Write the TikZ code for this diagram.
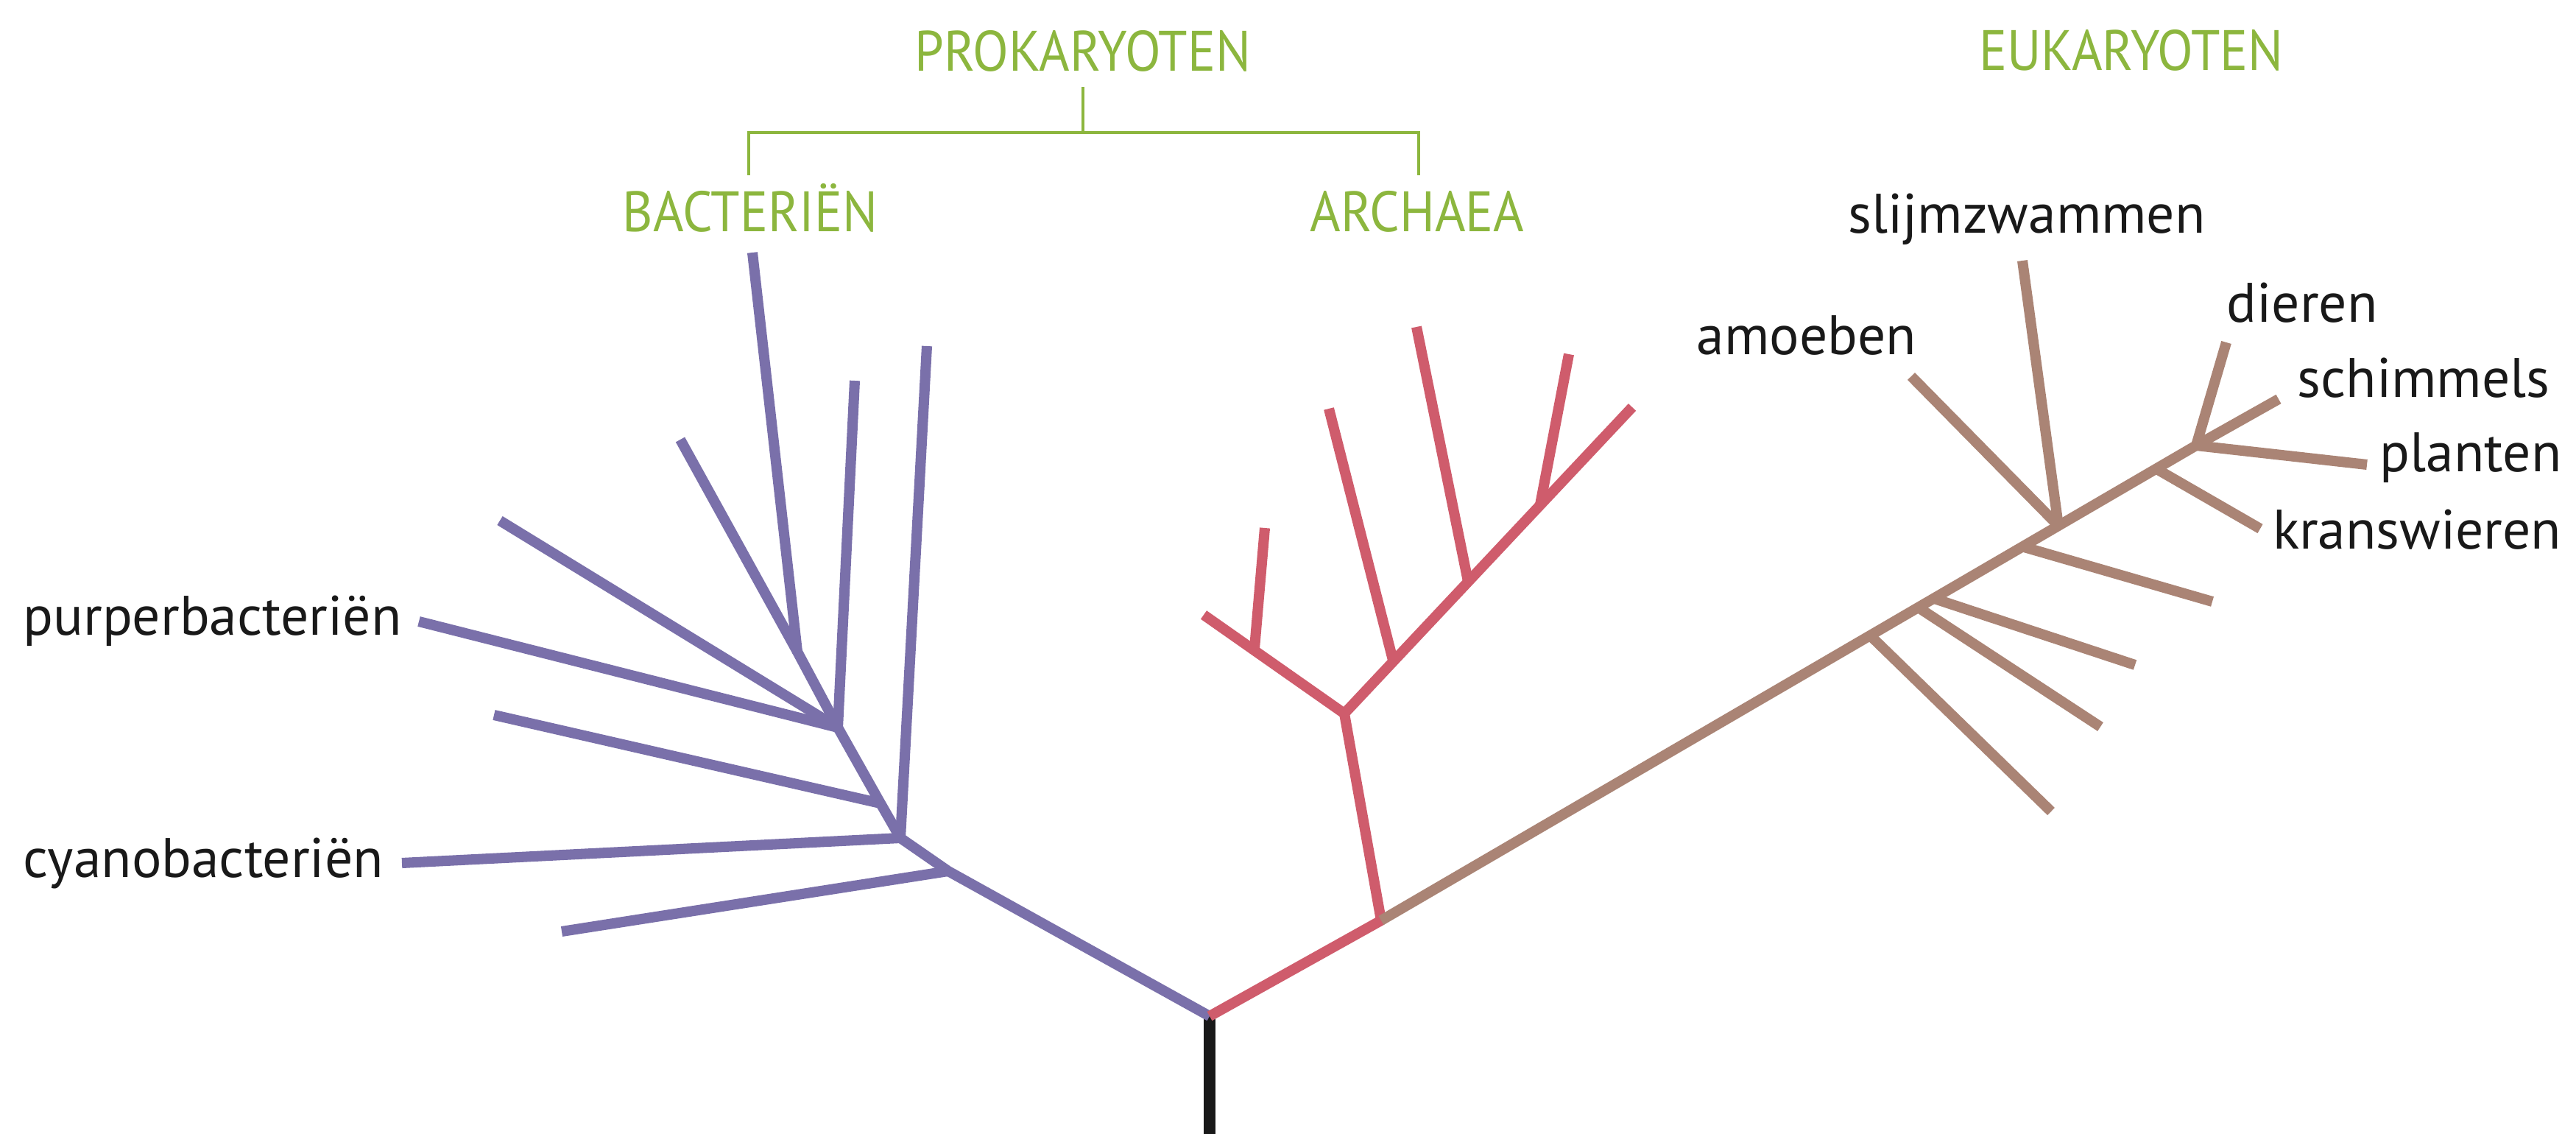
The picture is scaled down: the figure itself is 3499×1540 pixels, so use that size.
\documentclass[tikz,border=0pt]{standalone}
\usepackage{fontspec}
\setmainfont{PT Sans}
\newfontfamily\groupfont{PT Sans}[FakeStretch=0.92]
\usetikzlibrary{calc}
\definecolor{bactcol}{RGB}{122,112,170}
\definecolor{archcol}{RGB}{207,92,108}
\definecolor{eukcol}{RGB}{170,132,117}
\definecolor{groupgreen}{RGB}{140,182,62}
\begin{document}
\begin{tikzpicture}[x=0.01cm, y=-0.01cm,
    branch/.style={line width=4pt, line join=round},
    bact/.style={branch, draw=bactcol},
    arch/.style={branch, draw=archcol},
    euk/.style={branch, draw=eukcol},
    taxon/.style={inner sep=0pt, text=black!90, font=\fontsize{21.5}{25}\selectfont},
    group/.style={inner sep=0pt, text=groupgreen, font=\groupfont\fontsize{22}{26}\selectfont},
    bracket/.style={draw=groupgreen, line width=0.9pt}]
\useasboundingbox (0,0) rectangle (3499,1540);

% labels
\node[group, anchor=base] (prok) at (1471,97) {PROKARYOTEN};
\node[group, anchor=base] (bacteria) at (1019,315) {BACTERIËN};
\node[group, anchor=base] (archaea) at (1925,315) {ARCHAEA};
\node[group, anchor=base] (euka) at (2895,96) {EUKARYOTEN};
\node[taxon, anchor=base west] (purper) at (31,863) {purperbacteriën};
\node[taxon, anchor=base west] (cyano) at (31,1191) {cyanobacteriën};
\node[taxon, anchor=base] (slijm) at (2753,317) {slijmzwammen};
\node[taxon, anchor=base west] (amoeb) at (2304,482) {amoeben};
\node[taxon, anchor=base west] (dier) at (3024,438) {dieren};
\node[taxon, anchor=base west] (schim) at (3120,540) {schimmels};
\node[taxon, anchor=base east] (plant) at (3480,641) {planten};
\node[taxon, anchor=base east] (krans) at (3480,746) {kranswieren};

% bracket prokaryoten
\coordinate (brTop) at (1471,118);
\coordinate (brMid) at (1471,180);
\coordinate (brL) at (1017,238);
\coordinate (brR) at (1927,238);
\draw[bracket] (brTop) -- (brMid);
\draw[bracket] (brL) |- (brMid) -| (brR);

% root
\coordinate (rootBot) at (1643,1540);
\coordinate (root) at (1643,1380);
\draw[line width=4.4pt, black!90] (rootBot) -- (root);

% bacterien
\coordinate (b5) at (1288,1183);
\coordinate (b4) at (1223,1138);
\coordinate (b3) at (1196,1091);
\coordinate (b2) at (1138,988);
\coordinate (b1) at (1083,885);
\coordinate (bTop) at (1022,343);
\coordinate (bB) at (924,597);
\coordinate (bC) at (679,707);
\coordinate (bPurper) at (569,844);
\coordinate (bD) at (1161,517);
\coordinate (bE) at (671,971);
\coordinate (bF) at (1259,470);
\coordinate (bCyano) at (546,1172);
\coordinate (bG) at (763,1265);
\draw[bact] (root) -- (b5) -- (b4) -- (b3) -- (b2) -- (b1) -- (bTop);
\draw[bact] (bB) -- (b1);
\draw[bact] (bC) -- (b2);
\draw[bact] (bPurper) -- (b2);
\draw[bact] (bD) -- (b2);
\draw[bact] (bE) -- (b3);
\draw[bact] (bF) -- (b4);
\draw[bact] (bCyano) -- (b4);
\draw[bact] (bG) -- (b5);

% archaea
\coordinate (a0) at (1876,1250);
\coordinate (a1) at (1826,969);
\coordinate (aLeft) at (1635,835);
\coordinate (aRight) at (2217,553);
\coordinate (aL1) at ($(a1)!0.64!(aLeft)$);
\coordinate (aR1) at ($(a1)!0.17!(aRight)$);
\coordinate (aR2) at ($(a1)!0.43!(aRight)$);
\coordinate (aR3) at ($(a1)!0.68!(aRight)$);
\draw[arch] (root) -- (a0) -- (a1) -- (aRight);
\draw[arch] (a1) -- (aLeft);
\draw[arch] (aL1) -- (1718,717);
\draw[arch] (aR1) -- (1805,555);
\draw[arch] (aR2) -- (1924,444);
\draw[arch] (aR3) -- (2131,481);

% eukaryoten
\coordinate (eTop) at (2983,605);
\coordinate (e1) at ($(a0)!0.600!(eTop)$);
\coordinate (e2) at ($(a0)!0.659!(eTop)$);
\coordinate (e3) at ($(a0)!0.678!(eTop)$);
\coordinate (e4) at ($(a0)!0.787!(eTop)$);
\coordinate (e5) at ($(a0)!0.831!(eTop)$);
\coordinate (e6) at ($(a0)!0.951!(eTop)$);
\draw[euk] (a0) -- (eTop);
\draw[euk] (e1) -- (2786,1102);
\draw[euk] (e2) -- (2853,987);
\draw[euk] (e3) -- (2900,903);
\draw[euk] (e4) -- (3005,817);
\draw[euk] (e5) -- (2596,511);
\draw[euk] (e5) -- (2747,354);
\draw[euk] (e6) -- (3070,718);
\draw[euk] (eTop) -- (3024,465);
\draw[euk] (eTop) -- (3095,542);
\draw[euk] (eTop) -- (3215,631);
\end{tikzpicture}
\end{document}
